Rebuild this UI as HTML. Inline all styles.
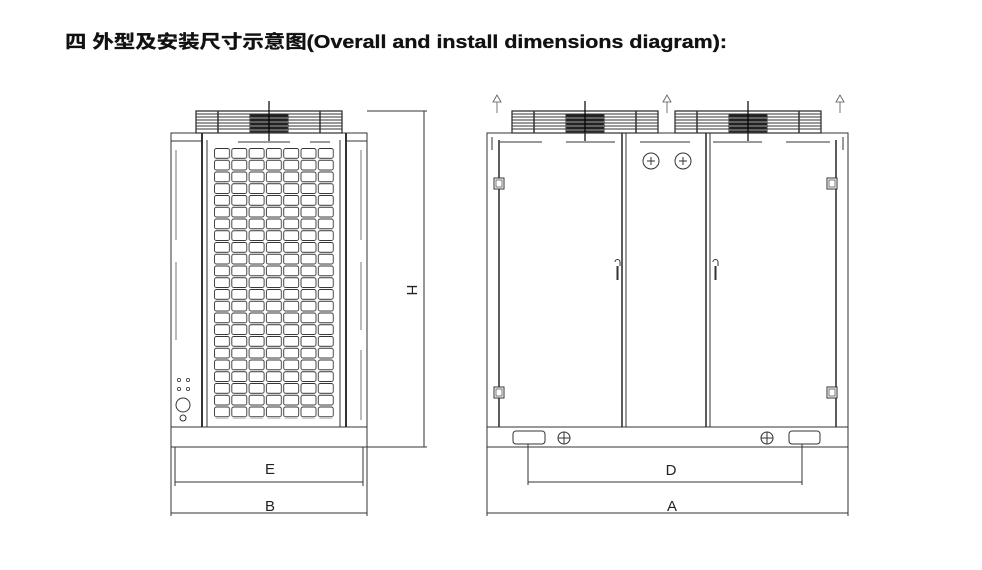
<!DOCTYPE html>
<html><head><meta charset="utf-8"><style>
html,body{margin:0;padding:0;background:#fff;}
svg{display:block}
</style></head><body>
<svg width="982" height="570" viewBox="0 0 982 570" xmlns="http://www.w3.org/2000/svg" font-family="Liberation Sans, sans-serif">
<defs>
<pattern id="grid" x="214" y="148" width="17.3" height="11.75" patternUnits="userSpaceOnUse">
<rect x="0.5" y="0.5" width="15" height="9.8" rx="2" fill="none" stroke="#333" stroke-width="0.9"/>
</pattern>
<g id="fan">
<rect x="0" y="0" width="146" height="22" fill="none" stroke="#222" stroke-width="1.2"/>
<g stroke="#333" stroke-width="1">
<line x1="0" y1="3" x2="146" y2="3"/><line x1="0" y1="6" x2="146" y2="6"/><line x1="0" y1="9" x2="146" y2="9"/>
<line x1="0" y1="12" x2="146" y2="12"/><line x1="0" y1="15" x2="146" y2="15"/><line x1="0" y1="18" x2="146" y2="18"/>
<line x1="22" y1="0" x2="22" y2="22" stroke-width="1.5"/><line x1="124" y1="0" x2="124" y2="22" stroke-width="1.5"/>
</g>
<rect x="54" y="3" width="38" height="18" fill="#222"/>
<g stroke="#ccc" stroke-width="0.8"><line x1="54" y1="7" x2="92" y2="7"/><line x1="54" y1="11" x2="92" y2="11"/><line x1="54" y1="15" x2="92" y2="15"/><line x1="54" y1="19" x2="92" y2="19"/></g>
<line x1="73" y1="-10" x2="73" y2="30" stroke="#000" stroke-width="1.2"/>
</g>
<g id="hinge"><rect x="0" y="0" width="10" height="11" fill="#fff" stroke="#333"/><rect x="2" y="2" width="6" height="7" fill="none" stroke="#555" stroke-width="0.8"/></g>
<g id="arr"><path d="M0 0 L-4 7 L4 7 Z M0 7 L0 18" fill="none" stroke="#555" stroke-width="0.8"/></g>
</defs>
<text x="65" y="48" font-size="18" font-weight="bold" fill="#111" stroke="#111" stroke-width="0.3" font-family="Liberation Sans, Noto Sans CJK SC, sans-serif" textLength="662" lengthAdjust="spacingAndGlyphs">四 外型及安装尺寸示意图(Overall and install dimensions diagram):</text>

<g fill="none" stroke="#333" stroke-width="1">
<use href="#fan" x="196" y="111"/>
<rect x="171" y="133" width="196" height="314"/>
<line x1="171" y1="427" x2="367" y2="427"/>
<line x1="202" y1="133" x2="202" y2="427" stroke-width="2"/>
<line x1="207" y1="140" x2="207" y2="427"/>
<line x1="340" y1="140" x2="340" y2="427"/>
<line x1="346" y1="133" x2="346" y2="427" stroke-width="2"/>
<line x1="171" y1="141" x2="202" y2="141"/><line x1="346" y1="141" x2="367" y2="141"/>
<line x1="238" y1="142" x2="290" y2="142"/><line x1="310" y1="142" x2="330" y2="142"/>
<g stroke="#777"><line x1="176" y1="150" x2="176" y2="240"/><line x1="176" y1="262" x2="176" y2="340"/><line x1="361" y1="150" x2="361" y2="240"/><line x1="361" y1="262" x2="361" y2="330"/><line x1="361" y1="350" x2="361" y2="420"/></g>
<rect x="214" y="148" width="121" height="270.5" fill="url(#grid)" stroke="none"/>
<circle cx="183" cy="405" r="7"/><circle cx="183" cy="418" r="3"/>
<g stroke-width="0.8"><circle cx="179" cy="380" r="1.6"/><circle cx="188" cy="380" r="1.6"/><circle cx="179" cy="389" r="1.6"/><circle cx="188" cy="389" r="1.6"/></g>
<line x1="367" y1="111" x2="427" y2="111"/><line x1="367" y1="447" x2="427" y2="447"/>
<line x1="424" y1="111" x2="424" y2="447"/>
<line x1="175" y1="447" x2="175" y2="486"/><line x1="363" y1="447" x2="363" y2="486"/>
<line x1="175" y1="482" x2="363" y2="482"/>
<line x1="171" y1="447" x2="171" y2="516"/><line x1="367" y1="447" x2="367" y2="516"/>
<line x1="171" y1="513" x2="367" y2="513"/>

<use href="#fan" x="512" y="111"/>
<use href="#fan" x="675" y="111"/>
<rect x="487" y="133" width="361" height="314"/>
<line x1="487" y1="427" x2="848" y2="427"/>
<line x1="499" y1="140" x2="499" y2="427" stroke-width="1.6"/>
<line x1="836" y1="140" x2="836" y2="427" stroke-width="1.6"/>
<line x1="622" y1="133" x2="622" y2="427" stroke-width="1.6"/><line x1="626" y1="133" x2="626" y2="427"/>
<line x1="706" y1="133" x2="706" y2="427" stroke-width="1.6"/><line x1="710" y1="133" x2="710" y2="427"/>
<line x1="492" y1="137" x2="492" y2="150"/><line x1="843" y1="137" x2="843" y2="150"/>
<line x1="500" y1="142" x2="542" y2="142"/><line x1="566" y1="142" x2="615" y2="142"/>
<line x1="640" y1="142" x2="690" y2="142"/><line x1="713" y1="142" x2="762" y2="142"/><line x1="786" y1="142" x2="830" y2="142"/>
<circle cx="651" cy="161" r="8"/><circle cx="683" cy="161" r="8"/>
<path d="M647 161h8M651 157v8M679 161h8M683 157v8"/>
<path d="M615 262 a2.5 2.5 0 0 1 5 0 v4 M617 266 v14 M618 266 v14"/>
<path d="M713 262 a2.5 2.5 0 0 1 5 0 v4 M715 266 v14 M716 266 v14"/>
<use href="#hinge" x="494" y="178"/><use href="#hinge" x="827" y="178"/>
<use href="#hinge" x="494" y="387"/><use href="#hinge" x="827" y="387"/>
<rect x="513" y="431" width="32" height="13" rx="3"/><rect x="789" y="431" width="31" height="13" rx="3"/>
<circle cx="564" cy="438" r="6"/><path d="M558 438h12M564 432v12"/>
<circle cx="767" cy="438" r="6"/><path d="M761 438h12M767 432v12"/>
<use href="#arr" x="497" y="95"/><use href="#arr" x="667" y="95"/><use href="#arr" x="840" y="95"/>
<line x1="528" y1="444" x2="528" y2="485"/><line x1="802" y1="444" x2="802" y2="485"/>
<line x1="528" y1="482" x2="802" y2="482"/>
<line x1="487" y1="447" x2="487" y2="516"/><line x1="848" y1="447" x2="848" y2="516"/>
<line x1="487" y1="513" x2="848" y2="513"/>
</g>
<g font-size="15" fill="#222" text-anchor="middle">
<text x="270" y="474">E</text><text x="270" y="511">B</text>
<text x="671" y="475">D</text><text x="672" y="511">A</text>
<text x="0" y="0" transform="translate(407,290) rotate(90)">H</text>
</g>
</svg>
</body></html>
